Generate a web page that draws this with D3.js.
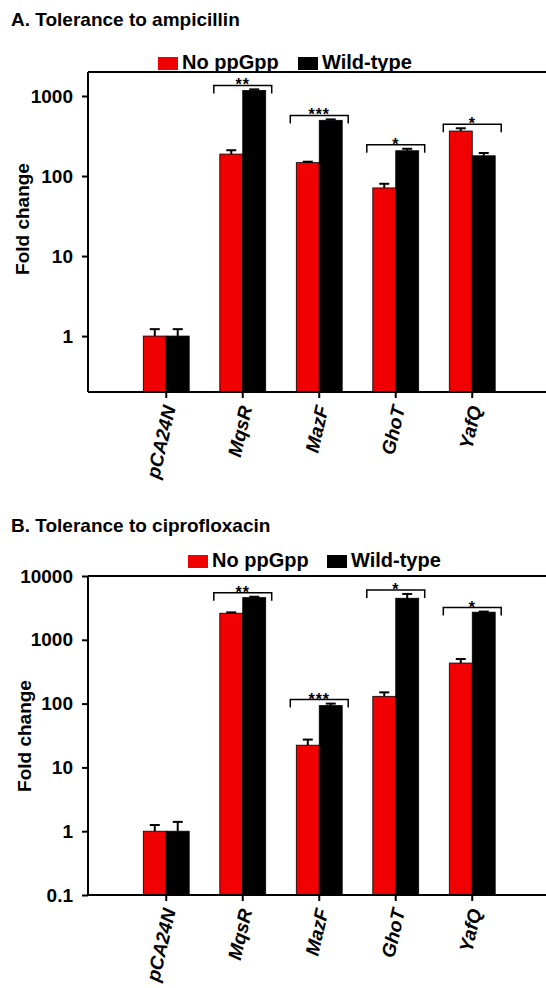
<!DOCTYPE html>
<meta charset="utf-8">
<style>
body { margin: 0; background: white; }
svg text { font-family: "Liberation Sans", Arial, sans-serif; }
</style>
<script src="https://d3js.org/d3.v7.min.js"></script>
<svg id="chart"></svg>
<script>
// strains on the x axis
var strains = ["pCA24N", "MqsR", "MazF", "GhoT", "YafQ"];
var seriesNames = ["No ppGpp", "Wild-type"];
var seriesColors = ["#f00000", "#000000"];

// A. ampicillin (mean, upper error)
var ampNoPpGpp = [1, 188, 147, 71, 365];
var ampNoPpGppErr = [0.22, 22, 4, 9, 30];
var ampWildType = [1, 1170, 497, 207, 179];
var ampWildTypeErr = [0.22, 40, 13, 12, 15];
var ampStars = ["", "**", "***", "*", "*"];
var ampTicks = [1, 10, 100, 1000];

// B. ciprofloxacin
var ciproNoPpGpp = [1, 2610, 22.3, 130, 432];
var ciproNoPpGppErr = [0.25, 80, 5, 20, 68];
var ciproWildType = [1, 4580, 93, 4480, 2710];
var ciproWildTypeErr = [0.4, 150, 7, 750, 60];
var ciproStars = ["", "**", "***", "*", "*"];
var ciproTicks = [0.1, 1, 10, 100, 1000, 10000];

var W = 546, H = 988;
var svg = d3.select("#chart").attr("width", W).attr("height", H);

function drawPanel(opt) {
  var g = svg.append("g");
  var x0 = d3.scaleBand().domain(strains).range([128, 510.5]).paddingInner(0.4).paddingOuter(0.2);
  var x1 = d3.scaleBand().domain([0, 1]).range([0, x0.bandwidth()]);
  var y = d3.scaleLog().domain(opt.domain).range([opt.bottom, opt.top]);
  var left = 88;

  // title
  g.append("text").attr("x", 11).attr("y", opt.titleY)
    .style("font-size", "19px").style("font-weight", "bold").text(opt.title);

  // legend
  var lg = g.append("g");
  seriesNames.forEach(function(s, i) {
    lg.append("rect").attr("x", opt.legendX[i]).attr("y", opt.legendY - 12)
      .attr("width", 20).attr("height", 13).attr("fill", seriesColors[i]);
    lg.append("text").attr("x", opt.legendX[i] + 24).attr("y", opt.legendY)
      .style("font-size", "20px").style("font-weight", "bold").text(s);
  });

  // bars
  var series = [opt.red, opt.black];
  var errs = [opt.redErr, opt.blackErr];
  series.forEach(function(vals, k) {
    g.append("g").selectAll("rect").data(vals).enter().append("rect")
      .attr("x", function(d, i) { return x0(strains[i]) + x1(k); })
      .attr("y", function(d) { return y(d); })
      .attr("width", x1.bandwidth())
      .attr("height", function(d) { return opt.bottom - y(d); })
      .attr("fill", seriesColors[k])
      .attr("stroke", "#000").attr("stroke-width", 0.8);
    // error bars (upper only)
    var eg = g.append("g").attr("stroke", "#000").attr("stroke-width", 2);
    vals.forEach(function(d, i) {
      var cx = x0(strains[i]) + x1(k) + x1.bandwidth() / 2;
      var yt = y(d + errs[k][i]);
      eg.append("line").attr("x1", cx).attr("x2", cx).attr("y1", y(d)).attr("y2", yt);
      eg.append("line").attr("x1", cx - 5).attr("x2", cx + 5).attr("y1", yt).attr("y2", yt);
    });
  });

  // significance brackets
  var bg = g.append("g");
  opt.stars.forEach(function(s, i) {
    if (!s) return;
    var top = Math.min(y(opt.red[i] + opt.redErr[i]), y(opt.black[i] + opt.blackErr[i])) - 4;
    var xa = x0(strains[i]) - 6, xb = x0(strains[i]) + x0.bandwidth() + 6;
    bg.append("path")
      .attr("d", "M" + xa + "," + (top + 8) + "V" + top + "H" + xb + "V" + (top + 8))
      .attr("fill", "none").attr("stroke", "#000").attr("stroke-width", 1.5);
    bg.append("text").attr("x", (xa + xb) / 2).attr("y", top + 5)
      .attr("text-anchor", "middle").style("font-size", "16px").style("font-weight", "bold")
      .style("letter-spacing", "1px").text(s);
  });

  // frame lines
  g.append("line").attr("x1", left).attr("x2", W).attr("y1", opt.top).attr("y2", opt.top)
    .attr("stroke", "#000").attr("stroke-width", 2);

  // y axis
  var ya = g.append("g").attr("transform", "translate(" + left + ",0)")
    .call(d3.axisLeft(y).tickValues(opt.ticks).tickSize(6).tickPadding(9)
      .tickFormat(function(d) { return d < 1 ? d3.format(".1f")(d) : d3.format("d")(d); }));
  ya.select(".domain").attr("stroke-width", 2).attr("d", "M0," + opt.top + "V" + opt.bottom);
  ya.selectAll(".tick line").attr("stroke-width", 2);
  ya.selectAll("text").style("font-size", "19px").style("font-weight", "bold")
    .style("font-family", "Liberation Sans, Arial, sans-serif").attr("fill", "#000");

  // x axis
  var xa = g.append("g").attr("transform", "translate(0," + opt.bottom + ")")
    .call(d3.axisBottom(x0).tickSize(6).tickSizeOuter(0));
  xa.select(".domain").attr("stroke-width", 2).attr("d", "M" + left + ",0H" + W);
  xa.selectAll(".tick line").attr("stroke-width", 2);
  xa.selectAll("text")
    .style("font-size", "19px").style("font-weight", "bold").style("font-style", "italic")
    .style("font-family", "Liberation Sans, Arial, sans-serif").attr("fill", "#000")
    .attr("text-anchor", "end")
    .attr("transform", "translate(3,14) rotate(-77)")
    .attr("x", 0).attr("y", 0).attr("dy", "0.35em");

  // y label
  g.append("text").attr("transform", "translate(" + opt.ylabX + "," + opt.ylabY + ") rotate(-90)")
    .attr("text-anchor", "middle").attr("dy", "0.35em")
    .style("font-size", "19px").style("font-weight", "bold").text("Fold change");
}

drawPanel({
  title: "A. Tolerance to ampicillin", titleY: 26,
  legendX: [158, 298], legendY: 69,
  top: 72, bottom: 392, domain: [0.2, 1995],
  red: ampNoPpGpp, redErr: ampNoPpGppErr, black: ampWildType, blackErr: ampWildTypeErr,
  stars: ampStars, ticks: ampTicks, ylabX: 22, ylabY: 219
});

drawPanel({
  title: "B. Tolerance to ciprofloxacin", titleY: 532,
  legendX: [188, 327], legendY: 567,
  top: 576, bottom: 895, domain: [0.1, 10000],
  red: ciproNoPpGpp, redErr: ciproNoPpGppErr, black: ciproWildType, blackErr: ciproWildTypeErr,
  stars: ciproStars, ticks: ciproTicks, ylabX: 24, ylabY: 736
});
</script>
